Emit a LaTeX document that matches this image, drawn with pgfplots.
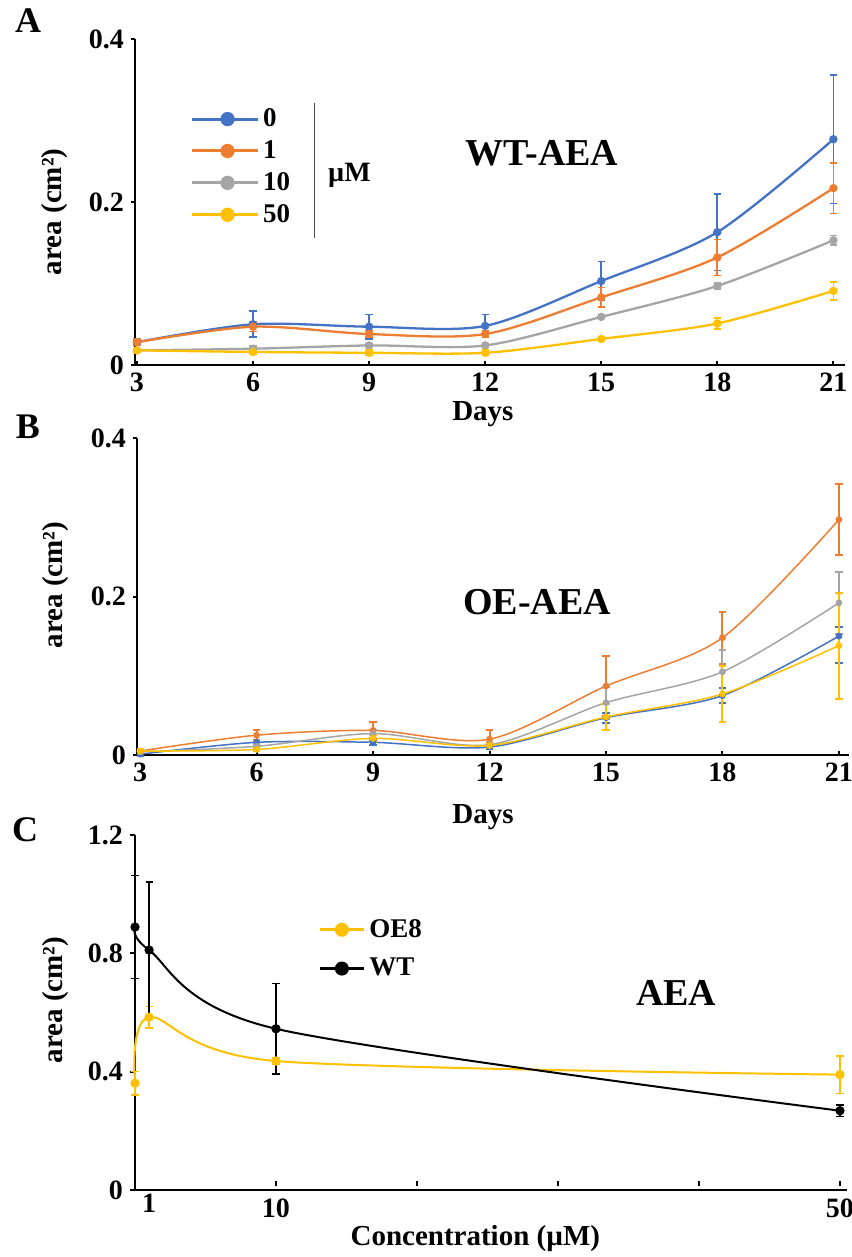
\documentclass[border=0pt]{standalone}
\usepackage{fontspec}
\setmainfont{Liberation Serif}
\usepackage{pgfplots}
\pgfplotsset{compat=1.18}
\definecolor{cblue}{HTML}{4472C4}
\definecolor{corange}{HTML}{ED7D31}
\definecolor{cgray}{HTML}{A5A5A5}
\definecolor{cyellow}{HTML}{FFC000}
\pgfplotsset{
  panel/.style={
    scale only axis, clip=false,
    axis x line=bottom, axis y line=left,
    axis line style={-, line width=1.4pt},
    tick style={black, line width=1pt},
    tick align=outside, major tick length=2pt,
    x tick style={yshift=2pt},
    tick label style={font=\fontsize{14}{16}\selectfont\bfseries},
    xticklabel style={yshift=1.5pt},
    label style={font=\fontsize{14.5}{16}\selectfont\bfseries},
  },
  ebars/.style={error bars/.cd, y dir=both, y explicit,
    error bar style={line width=#1},
    error mark options={rotate=90, mark size=1.8pt, line width=#1}},
}
\begin{document}
\begin{tikzpicture}
\useasboundingbox (0,0) rectangle (425.5pt,-628.5pt);
\node[font=\fontsize{18}{18}\selectfont\bfseries] at (14pt,-10.5pt) {A};
\node[font=\fontsize{18}{18}\selectfont\bfseries] at (14pt,-213.5pt) {B};
\node[font=\fontsize{18}{18}\selectfont\bfseries] at (12.5pt,-415pt) {C};
% ---------------- Panel A
\begin{axis}[panel, at={(67.5pt,-182.5pt)}, anchor=south west,
  width=355pt, height=163pt, xmin=2.95, xmax=21.3, ymin=0, ymax=0.4,
  xtick={3,6,9,12,15,18,21}, xticklabels={3,6,9,12,15,18,21},
  ytick={0,0.2,0.4}, yticklabels={0,0.2,0.4},
  xlabel={Days}, ylabel={area (cm²)},
  xlabel style={at={(axis description cs:0.49,-0.152)}, anchor=center},
  ylabel style={at={(axis description cs:-0.113,0.47)}, anchor=center},
  legend style={at={(axis description cs:0.077,0.8)}, anchor=north west,
    draw=none, fill=none, inner sep=0pt, row sep=1.5pt,
    font=\fontsize{13.5}{14}\selectfont\bfseries},
  legend cell align=left,
  legend image code/.code={\draw[line width=1.5pt] (0pt,0pt) -- (33pt,0pt); \fill (18pt,0pt) circle (3pt);},
]
\addplot[cblue, line width=1.15pt, smooth, mark=*, mark size=1.5pt, ebars=0.85pt] coordinates {
 (3,0.028) +- (0,0.003) (6,0.050) +- (0,0.016) (9,0.047) +- (0,0.015) (12,0.048) +- (0,0.014)
 (15,0.103) +- (0,0.024) (18,0.163) +- (0,0.047) (21,0.277) +- (0,0.079)};
\addlegendentry{0}
\addplot[corange, line width=1.15pt, smooth, mark=*, mark size=1.5pt, ebars=0.85pt] coordinates {
 (3,0.028) +- (0,0.004) (6,0.047) +- (0,0.006) (9,0.038) +- (0,0.004) (12,0.038) +- (0,0.004)
 (15,0.083) +- (0,0.012) (18,0.132) +- (0,0.022) (21,0.217) +- (0,0.031)};
\addlegendentry{1}
\addplot[cgray, line width=1.15pt, smooth, mark=*, mark size=1.5pt, ebars=0.85pt] coordinates {
 (3,0.018) +- (0,0.002) (6,0.020) +- (0,0.003) (9,0.024) +- (0,0.002) (12,0.024) +- (0,0.002)
 (15,0.059) +- (0,0.002) (18,0.097) +- (0,0.004) (21,0.153) +- (0,0.006)};
\addlegendentry{10}
\addplot[cyellow, line width=1.15pt, smooth, mark=*, mark size=1.5pt, ebars=0.85pt] coordinates {
 (3,0.018) +- (0,0.002) (6,0.016) +- (0,0.003) (9,0.015) +- (0,0.003) (12,0.015) +- (0,0.003)
 (15,0.032) +- (0,0.003) (18,0.051) +- (0,0.007) (21,0.091) +- (0,0.011)};
\addlegendentry{50}
\draw[line width=0.5pt, black!70] (axis description cs:0.2535,0.804) -- (axis description cs:0.2535,0.39);
\node[font=\fontsize{14}{14}\selectfont\bfseries] at (axis description cs:0.302,0.583) {µM};
\node[font=\fontsize{19}{20}\selectfont\bfseries] at (axis description cs:0.573,0.65) {WT-AEA};
\end{axis}
% ---------------- Panel B
\begin{axis}[panel, at={(68.5pt,-377.5pt)}, anchor=south west,
  width=356pt, height=158.5pt, xmin=2.92, xmax=21.26, ymin=0, ymax=0.4,
  xtick={3,6,9,12,15,18,21}, xticklabels={3,6,9,12,15,18,21},
  ytick={0,0.2,0.4}, yticklabels={0,0.2,0.4},
  xlabel={Days}, ylabel={area (cm²)},
  xlabel style={at={(axis description cs:0.486,-0.196)}, anchor=center},
  ylabel style={at={(axis description cs:-0.115,0.536)}, anchor=center},
]
\addplot[cblue, line width=0.75pt, smooth, mark=*, mark size=1.3pt, ebars=1pt] coordinates {
 (3,0.001) +- (0,0.002) (6,0.016) +- (0,0.003) (9,0.016) +- (0,0.003) (12,0.010) +- (0,0.002)
 (15,0.047) +- (0,0.006) (18,0.075) +- (0,0.009) (21,0.150) += (0,0.011) -= (0,0.034)};
\addplot[corange, line width=0.75pt, smooth, mark=*, mark size=1.3pt, ebars=1pt] coordinates {
 (3,0.005) +- (0,0.002) (6,0.025) +- (0,0.006) (9,0.031) +- (0,0.011) (12,0.020) +- (0,0.011)
 (15,0.087) +- (0,0.038) (18,0.148) +- (0,0.033) (21,0.297) +- (0,0.045)};
\addplot[cgray, line width=0.75pt, smooth, mark=*, mark size=1.3pt, ebars=1pt] coordinates {
 (3,0.004) +- (0,0.001) (6,0.011) +- (0,0.002) (9,0.027) +- (0,0.005) (12,0.013) +- (0,0.003)
 (15,0.066) +- (0,0.020) (18,0.105) +- (0,0.028) (21,0.192) +- (0,0.039)};
\addplot[cyellow, line width=0.75pt, smooth, mark=*, mark size=1.3pt, ebars=1pt] coordinates {
 (3,0.005) +- (0,0.002) (6,0.007) +- (0,0.002) (9,0.021) +- (0,0.004) (12,0.012) +- (0,0.003)
 (15,0.048) +- (0,0.016) (18,0.077) +- (0,0.035) (21,0.138) +- (0,0.067)};
\node[font=\fontsize{19}{20}\selectfont\bfseries] at (axis description cs:0.562,0.483) {OE-AEA};
\end{axis}
% ---------------- Panel C
\begin{axis}[panel, at={(67.5pt,-595pt)}, anchor=south west,
  width=356pt, height=177.5pt, xmin=0, xmax=50.5, ymin=0, ymax=1.2,
  major tick length=2.5pt, x tick style={yshift=2.5pt},
  xtick={10,20,30,40,50}, xticklabels={10,,,,50},
  extra x ticks={1}, extra x tick labels={1}, extra x tick style={major tick length=0pt},
  ytick={0,0.4,0.8,1.2}, yticklabels={0,0.4,0.8,1.2},
  xlabel={Concentration (µM)}, ylabel={area (cm²)},
  xlabel style={at={(axis description cs:0.478,-0.138)}, anchor=center},
  ylabel style={at={(axis description cs:-0.112,0.535)}, anchor=center},
  legend style={at={(axis description cs:0.257,0.775)}, anchor=north west,
    draw=none, fill=none, inner sep=0pt, row sep=5pt,
    font=\fontsize{13.5}{14}\selectfont\bfseries},
  legend cell align=left,
  legend image code/.code={\draw[line width=1.5pt] (0pt,0pt) -- (22pt,0pt); \fill (11pt,0pt) circle (3pt);},
]
\addplot[cyellow, line width=1pt, smooth, mark=*, mark size=1.8pt, ebars=0.7pt] coordinates {
 (0,0.361) +- (0,0.040) (1,0.584) +- (0,0.037) (10,0.436) +- (0,0.012) (50,0.390) +- (0,0.063)};
\addlegendentry{OE8}
\addplot[black, line width=1pt, smooth, mark=*, mark size=1.8pt, ebars=0.7pt] coordinates {
 (0,0.889) +- (0,0.175) (1,0.811) +- (0,0.230) (10,0.545) +- (0,0.153) (50,0.268) +- (0,0.020)};
\addlegendentry{WT}
\node[font=\fontsize{19}{20}\selectfont\bfseries] at (axis description cs:0.76,0.555) {AEA};
\end{axis}
\end{tikzpicture}
\end{document}
